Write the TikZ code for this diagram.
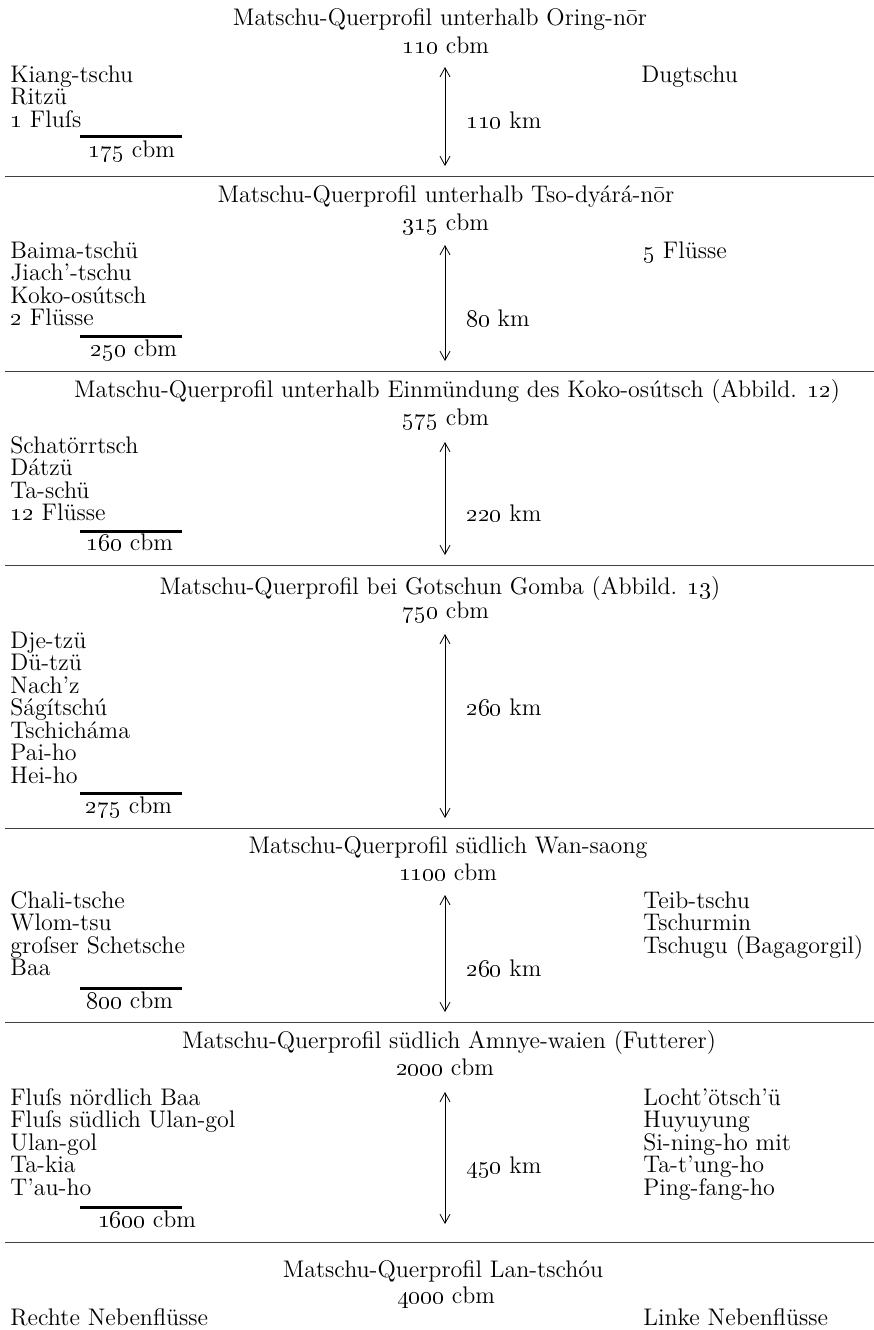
\documentclass[tikz,border=0pt]{standalone}
\usepackage{tikz}
\usetikzlibrary{arrows.meta}

\begin{document}
\begin{tikzpicture}[x=0.5pt,y=-0.5pt,
        every node/.style={inner sep=0pt, font=\fontsize{12}{11.25}\selectfont},
        ttl/.style={anchor=base},
        qty/.style={anchor=base},
        lst/.style={anchor=base west, align=left},
        bar/.style={line width=1.5pt},
        sep/.style={line width=0.5pt, black!75},
        dist/.style={line width=0.4pt,
            {Straight Barb[length=4.5pt,width=5pt]}-{Straight Barb[length=4.5pt,width=5pt]}}]

        \useasboundingbox (0,0) rectangle (874,1330);

        % Profile 1 (lists are placed at the baseline of their last line)
        \node[ttl] (t1) at (440,25) {Matschu-Querprofil unterhalb Oring-nōr};
        \node[qty] (q1) at (446,53) {\oldstylenums{110} cbm};
        \node[lst] (l1) at (10,127) {Kiang-tschu\\Ritzü\\\oldstylenums{1} Fluſs};
        \node[lst] (r1) at (641,82) {Dugtschu};
        \draw[bar] (80,136) -- (182,136);
        \node[qty] (s1) at (132,157) {\oldstylenums{175} cbm};
        \coordinate (a1t) at (445,67);
        \coordinate (a1b) at (445,166);
        \draw[dist] (a1t) -- (a1b);
        \node[lst] (k1) at (466,128) {\oldstylenums{110} km};
        \draw[sep] (5,176) -- (874,176);

        % Profile 2
        \node[ttl] (t2) at (446,202) {Matschu-Querprofil unterhalb Tso-dyárá-nōr};
        \node[qty] (q2) at (446,230) {\oldstylenums{315} cbm};
        \node[lst] (l2) at (10,325.5) {Baima-tschü\\Jiach'-tschu\\Koko-osútsch\\\oldstylenums{2} Flüsse};
        \node[lst] (r2) at (643,258) {\oldstylenums{5} Flüsse};
        \draw[bar] (80,336) -- (182,336);
        \node[qty] (s2) at (134,356) {\oldstylenums{250} cbm};
        \coordinate (a2t) at (445,245);
        \coordinate (a2b) at (445,361);
        \draw[dist] (a2t) -- (a2b);
        \node[lst] (k2) at (466,326) {\oldstylenums{80} km};
        \draw[sep] (5,371) -- (874,371);

        % Profile 3
        \node[ttl] (t3) at (457,397) {Matschu-Querprofil unterhalb Einmündung des Koko-osútsch (Abbild. \oldstylenums{12})};
        \node[qty] (q3) at (446,425) {\oldstylenums{575} cbm};
        \node[lst] (l3) at (10,520.5) {Schatörrtsch\\Dátzü\\Ta-schü\\\oldstylenums{12} Flüsse};
        \draw[bar] (80,531) -- (182,531);
        \node[qty] (s3) at (130,550) {\oldstylenums{160} cbm};
        \coordinate (a3t) at (445,442);
        \coordinate (a3b) at (445,555);
        \draw[dist] (a3t) -- (a3b);
        \node[lst] (k3) at (466,521) {\oldstylenums{220} km};
        \draw[sep] (5,565) -- (874,565);

        % Profile 4
        \node[ttl] (t4) at (440,594) {Matschu-Querprofil bei Gotschun Gomba (Abbild. \oldstylenums{13})};
        \node[qty] (q4) at (446,618) {\oldstylenums{750} cbm};
        \node[lst] (l4) at (10,783) {Dje-tzü\\Dü-tzü\\Nach'z\\Ságítschú\\Tschicháma\\Pai-ho\\Hei-ho};
        \draw[bar] (80,793) -- (182,793);
        \node[qty] (s4) at (129,813) {\oldstylenums{275} cbm};
        \coordinate (a4t) at (445,634);
        \coordinate (a4b) at (445,818);
        \draw[dist] (a4t) -- (a4b);
        \node[lst] (k4) at (466,715) {\oldstylenums{260} km};
        \draw[sep] (5,828) -- (874,828);

        % Profile 5
        \node[ttl] (t5) at (448,853) {Matschu-Querprofil südlich Wan-saong};
        \node[qty] (q5) at (448,880) {\oldstylenums{1100} cbm};
        \node[lst] (l5) at (10,975.5) {Chali-tsche\\Wlom-tsu\\groſser Schetsche\\Baa};
        \node[lst] (r5) at (643,953) {Teib-tschu\\Tschurmin\\Tschugu (Bagagorgil)};
        \draw[bar] (80,988) -- (182,988);
        \node[qty] (s5) at (130,1008) {\oldstylenums{800} cbm};
        \coordinate (a5t) at (445,895);
        \coordinate (a5b) at (445,1012);
        \draw[dist] (a5t) -- (a5b);
        \node[lst] (k5) at (466,976) {\oldstylenums{260} km};
        \draw[sep] (5,1022) -- (874,1022);

        % Profile 6
        \node[ttl] (t6) at (449,1048) {Matschu-Querprofil südlich Amnye-waien (Futterer)};
        \node[qty] (q6) at (445,1075) {\oldstylenums{2000} cbm};
        \node[lst] (l6) at (10,1195) {Fluſs nördlich Baa\\Fluſs südlich Ulan-gol\\Ulan-gol\\Ta-kia\\T'au-ho};
        \node[lst] (r6) at (643,1195) {Locht'ötsch'ü\\Huyuyung\\Si-ning-ho mit\\Ta-t'ung-ho\\Ping-fang-ho};
        \draw[bar] (80,1207) -- (182,1207);
        \node[qty] (s6) at (147,1227) {\oldstylenums{1600} cbm};
        \coordinate (a6t) at (445,1092);
        \coordinate (a6b) at (445,1224);
        \draw[dist] (a6t) -- (a6b);
        \node[lst] (k6) at (466,1173) {\oldstylenums{450} km};
        \draw[sep] (5,1242) -- (874,1242);

        % Profile 7
        \node[ttl] (t7) at (443,1277) {Matschu-Querprofil Lan-tschóu};
        \node[qty] (q7) at (446,1303) {\oldstylenums{4000} cbm};
        \node[lst] (l7) at (10,1325) {Rechte Nebenflüsse};
        \node[lst] (r7) at (643,1325) {Linke Nebenflüsse};

\end{tikzpicture}
\end{document}
